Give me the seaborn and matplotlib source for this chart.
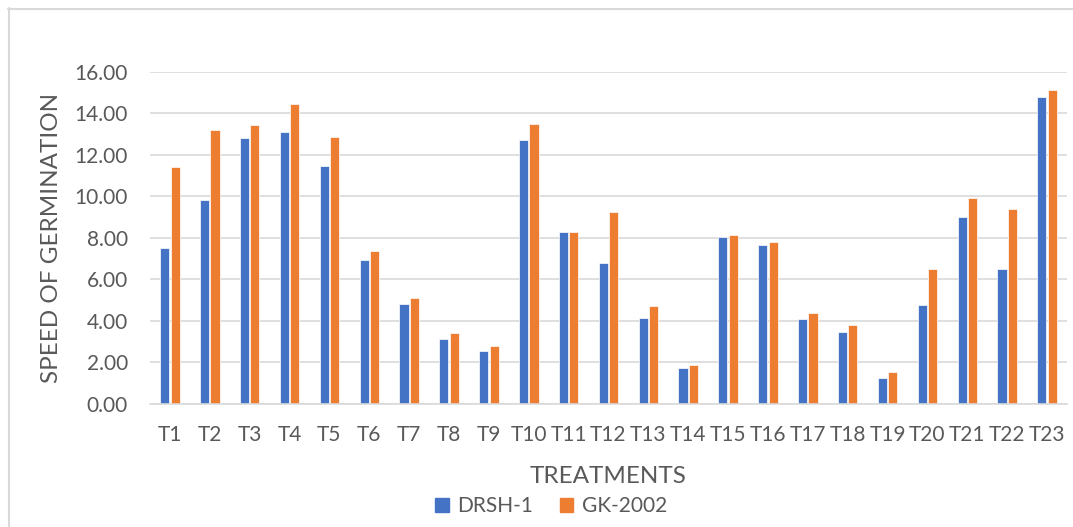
import numpy as np
import pandas as pd
import matplotlib
matplotlib.use("Agg")
import matplotlib.pyplot as plt
import seaborn as sns
from matplotlib.patches import Rectangle
from matplotlib.lines import Line2D

# values
treatments = [f"T{i}" for i in range(1, 24)]
drsh_1 = [7.51, 9.82, 12.81, 13.08, 11.46, 6.93, 4.82, 3.11, 2.57, 12.71, 8.30, 6.77,
          4.16, 1.75, 8.04, 7.67, 4.11, 3.47, 1.24, 4.75, 8.99, 6.52, 14.77]
gk_2002 = [11.41, 13.18, 13.42, 14.46, 12.84, 7.37, 5.10, 3.43, 2.78, 13.48, 8.30, 9.23,
           4.72, 1.88, 8.12, 7.78, 4.37, 3.82, 1.52, 6.52, 9.94, 9.39, 15.12]
varieties = ["DRSH-1", "GK-2002"]
palette = ["#4472C4", "#ED7D31"]

df = pd.DataFrame({
    "Treatment": treatments * 2,
    "Variety": [varieties[0]] * len(treatments) + [varieties[1]] * len(treatments),
    "Speed": drsh_1 + gk_2002,
})

sns.set_theme(style="white")
plt.rcParams['font.family'] = ['Lato', 'DejaVu Sans']
text_col = "#595959"

W, H = 1073, 527
fig = plt.figure(figsize=(W / 100, H / 100), dpi=100)
ax = fig.add_axes([150 / W, 1 - 404 / H, 917 / W, 332.3 / H])

sns.barplot(data=df, x="Treatment", y="Speed", hue="Variety", order=treatments,
            hue_order=varieties, palette=palette, width=0.52, gap=0.12,
            edgecolor="white", linewidth=0.5, saturation=1, ax=ax)

ax.set_ylim(0, 16)
ax.set_yticks(np.arange(0, 17, 2))
ax.set_yticklabels([f"{v:.2f}" for v in np.arange(0, 17, 2)])
ax.set_xlim(-0.5, len(treatments) - 0.5)
ax.yaxis.grid(True, color="#D9D9D9", linewidth=1.2)
ax.set_axisbelow(True)
for s in ["top", "right", "left"]:
    ax.spines[s].set_visible(False)
ax.spines["bottom"].set_color("#D9D9D9")
ax.spines["bottom"].set_linewidth(1.2)
ax.tick_params(axis="both", colors=text_col, labelsize=15, length=0)
ax.tick_params(axis="x", pad=15)
ax.tick_params(axis="y", pad=16)

ax.set_xlabel("TREATMENTS", fontsize=17.5, color=text_col, va="center")
ax.xaxis.set_label_coords(0.5, -0.218)
ax.set_ylabel("SPEED OF GERMINATION", fontsize=17.5, color=text_col, va="center")
ax.yaxis.set_label_coords(-0.107, 0.5)

ax.legend_.remove()
handles = [Rectangle((0, 0), 1, 1, color=c) for c in palette]
fig.legend(handles, varieties, loc="center", bbox_to_anchor=(551 / W, 1 - 506 / H), ncol=2,
           frameon=False, fontsize=15, handlelength=0.65, handleheight=0.65,
           columnspacing=1.3, handletextpad=0.4, labelcolor=text_col)

# chart border (only top and left edges visible in the reference)
fig.add_artist(Line2D([8 / W, 1], [1 - 8.5 / H, 1 - 8.5 / H], transform=fig.transFigure,
                      color="#D9D9D9", linewidth=1.5))
fig.add_artist(Line2D([8.5 / W, 8.5 / W], [0, 1 - 8 / H], transform=fig.transFigure,
                      color="#D9D9D9", linewidth=1.5))

fig.savefig("out.png", dpi=100)
